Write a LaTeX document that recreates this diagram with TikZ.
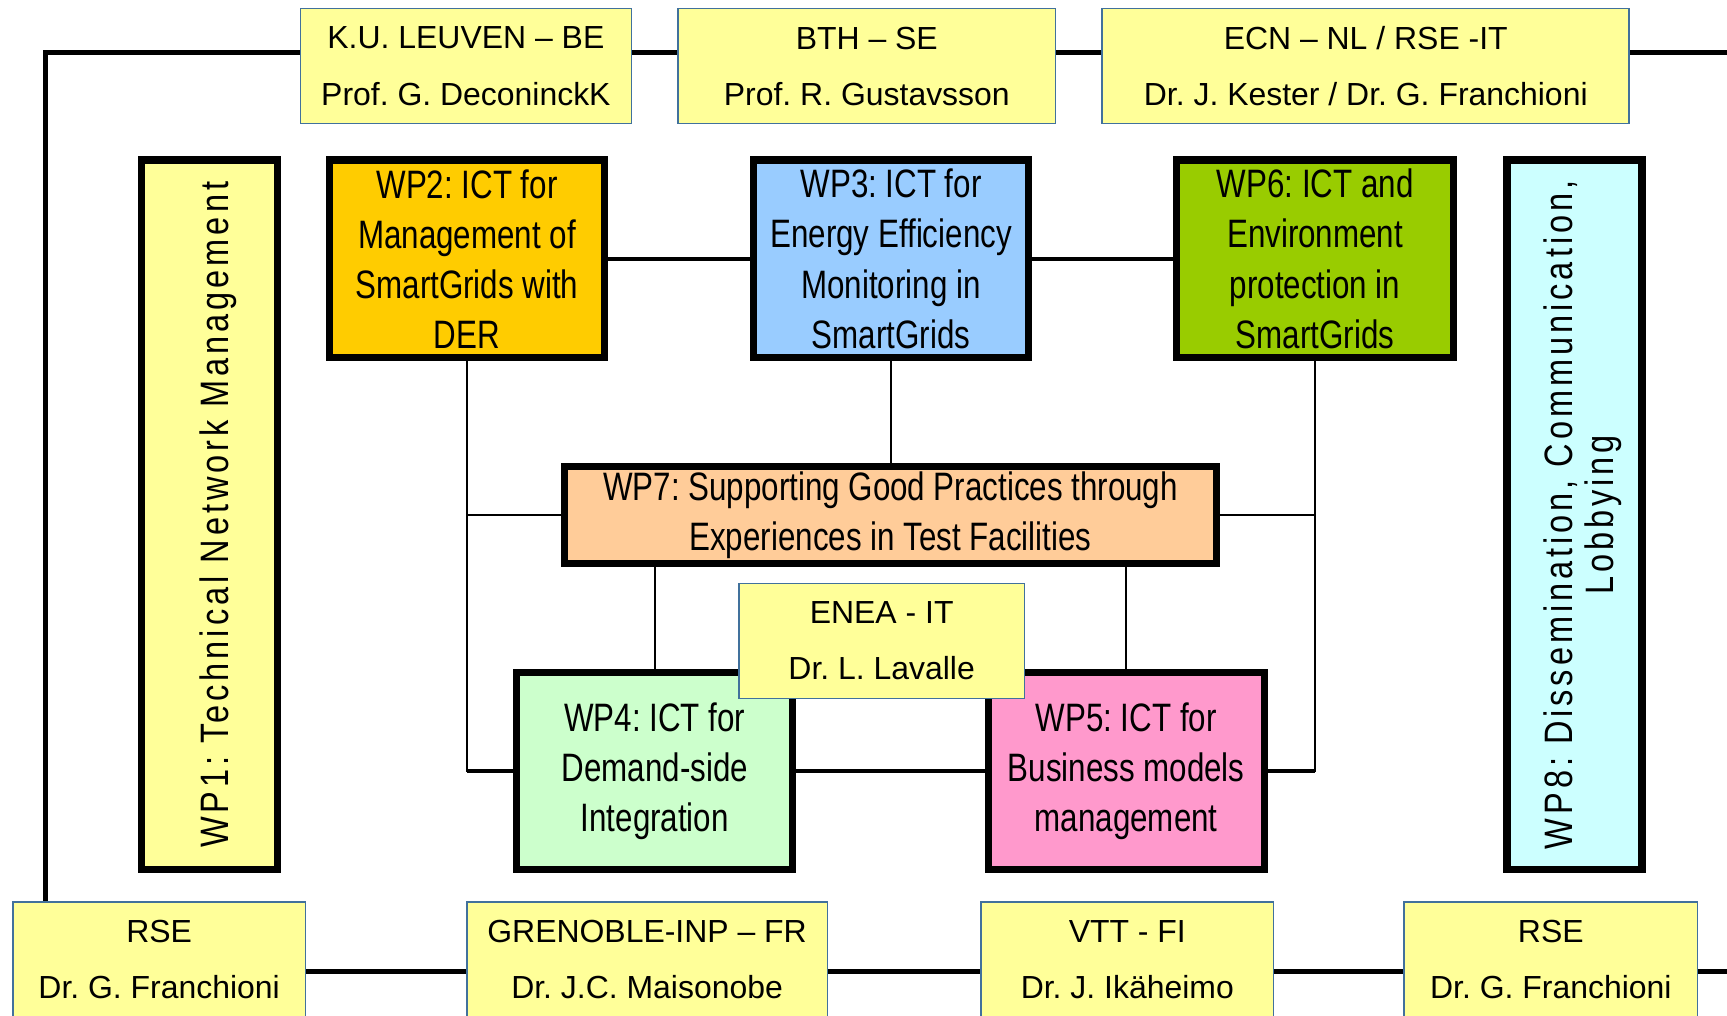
\documentclass[tikz,border=0pt]{standalone}
\usepackage{fontspec}
\setmainfont{Liberation Sans}
\newfontfamily\narrowfont{Liberation Sans}[FakeStretch=0.79]
\newfontfamily\spacedfont{Liberation Sans}[FakeStretch=0.82,LetterSpace=10]
\definecolor{boxyellow}{HTML}{FFFF99}
\definecolor{boxblue}{RGB}{65,113,156}
\definecolor{wpgold}{HTML}{FFCC00}
\definecolor{wpsky}{HTML}{99CCFF}
\definecolor{wpgreen}{HTML}{99CC00}
\definecolor{wppeach}{HTML}{FFCC99}
\definecolor{wpmint}{HTML}{CCFFCC}
\definecolor{wppink}{HTML}{FF99CC}
\definecolor{wpcyan}{HTML}{CCFFFF}
\pgfdeclarelayer{bg}
\pgfsetlayers{bg,main}
\frenchspacing
\begin{document}
\frenchspacing
\begin{tikzpicture}[x=1pt,y=-1pt,
  partner/.style={draw=boxblue, line width=1.5pt, fill=boxyellow, inner sep=0pt, outer sep=0pt,
    align=center, font=\frenchspacing\fontsize{29}{51}\selectfont},
  wp/.style={draw=black, line width=6.5pt, inner sep=0pt, outer sep=0pt,
    align=center, font=\frenchspacing\narrowfont\fontsize{36}{45.5}\selectfont},
  wpside/.style={wp, font=\frenchspacing\spacedfont\fontsize{36}{37}\selectfont},
  frameline/.style={line width=4.5pt},
  thickconn/.style={line width=4.2pt},
  thinconn/.style={line width=1.8pt, line cap=rect},
]
\useasboundingbox (0,0) rectangle (1568,922);

% partner boxes
\node[partner, minimum width=300.5pt, minimum height=104.5pt] (ku) at (423,60) {K.U. LEUVEN -- BE\\Prof. G. DeconinckK};
\node[partner, minimum width=342.5pt, minimum height=104.5pt] (bth) at (787,60) {BTH -- SE\\Prof. R. Gustavsson};
\node[partner, minimum width=478.5pt, minimum height=104.5pt] (ecn) at (1240,60) {ECN -- NL / RSE -IT\\Dr. J. Kester / Dr. G. Franchioni};
\node[partner, minimum width=265.5pt, minimum height=104.5pt] (rsea) at (144.5,871) {RSE\\Dr. G. Franchioni};
\node[partner, minimum width=327.5pt, minimum height=104.5pt] (gre) at (587.5,871) {GRENOBLE-INP -- FR\\Dr. J.C. Maisonobe};
\node[partner, minimum width=265.5pt, minimum height=104.5pt] (vtt) at (1023.5,871) {VTT - FI\\Dr. J. Ikäheimo};
\node[partner, minimum width=266.5pt, minimum height=104.5pt] (rseb) at (1408,871) {RSE\\Dr. G. Franchioni};

% work packages
\node[wpside, fill=boxyellow, minimum width=123.5pt, minimum height=644.5pt] (wp1) at (190,467.5)
  {\hspace*{15.5pt}\rotatebox{90}{WP1: Technical Network Management}};
\node[wpside, fill=wpcyan, minimum width=122.5pt, minimum height=644.5pt] (wp8) at (1429.5,467.5)
  {\hspace*{19pt}\rotatebox{90}{\begin{tabular}{@{}c@{}}WP8: Dissemination, Communication,\\Lobbying\end{tabular}}};
\node[wp, fill=wpgold, minimum width=249.5pt, minimum height=179.5pt] (wp2) at (424,235)
  {WP2: ICT for\\Management of\\SmartGrids with\\DER};
\node[wp, fill=wpsky, minimum width=249.5pt, minimum height=179.5pt] (wp3) at (809,235)
  {WP3: ICT for\\Energy Efficiency\\Monitoring in\\SmartGrids};
\node[wp, fill=wpgreen, minimum width=251.5pt, minimum height=179.5pt] (wp6) at (1194,235)
  {WP6: ICT and\\Environment\\protection in\\SmartGrids};
\node[wp, fill=wppeach, minimum width=592.5pt, minimum height=88.5pt] (wp7) at (808.5,467.5)
  {WP7: Supporting Good Practices through\\Experiences in Test Facilities};
\node[wp, fill=wpmint, minimum width=250.5pt, minimum height=179.5pt] (wp4) at (594.5,700)
  {WP4: ICT for\\Demand-side\\Integration};
\node[wp, fill=wppink, minimum width=250.5pt, minimum height=179.5pt] (wp5) at (1022.5,700)
  {WP5: ICT for\\Business models\\management};
\node[partner, minimum width=259.5pt, minimum height=104.5pt] (enea) at (800.5,582) {ENEA - IT\\Dr. L. Lavalle};

\begin{pgfonlayer}{bg}
  \coordinate (tl) at (41,48);
  \coordinate (tr) at (1568,48);
  \coordinate (br) at (1568,882);
  % outer frame
  \draw[frameline] (rsea.north -| tl) -- (tl) -- (tl -| ku.west);
  \draw[frameline] (ku.east |- tl) -- (bth.west |- tl);
  \draw[frameline] (bth.east |- tl) -- (ecn.west |- tl);
  \draw[frameline] (ecn.east |- tl) -- (tr);
  \draw[frameline] (rsea.east |- br) -- (gre.west |- br);
  \draw[frameline] (gre.east |- br) -- (vtt.west |- br);
  \draw[frameline] (vtt.east |- br) -- (rseb.west |- br);
  \draw[frameline] (rseb.east |- br) -- (br);
  % work package links
  \draw[thickconn] (wp2.east) -- (wp3.west);
  \draw[thickconn] (wp3.east) -- (wp6.west);
  \draw[thickconn] (wp4.east) -- (wp5.west);
  \draw[thinconn] (wp2.south) -- (wp2.south |- wp4.west);
  \draw[thickconn] (wp2.south |- wp4.west) -- (wp4.west);
  \draw[thinconn] (wp2.south |- wp7.west) -- (wp7.west);
  \draw[thinconn] (wp3.south) -- (wp3.south |- wp7.north);
  \draw[thinconn] (wp6.south) -- (wp6.south |- wp5.east);
  \draw[thickconn] (wp6.south |- wp5.east) -- (wp5.east);
  \draw[thinconn] (wp7.east) -- (wp7.east -| wp6.south);
  \draw[thinconn] (wp7.south -| wp4.north) -- (wp4.north);
  \draw[thinconn] (wp7.south -| wp5.north) -- (wp5.north);
\end{pgfonlayer}
\end{tikzpicture}
\end{document}
